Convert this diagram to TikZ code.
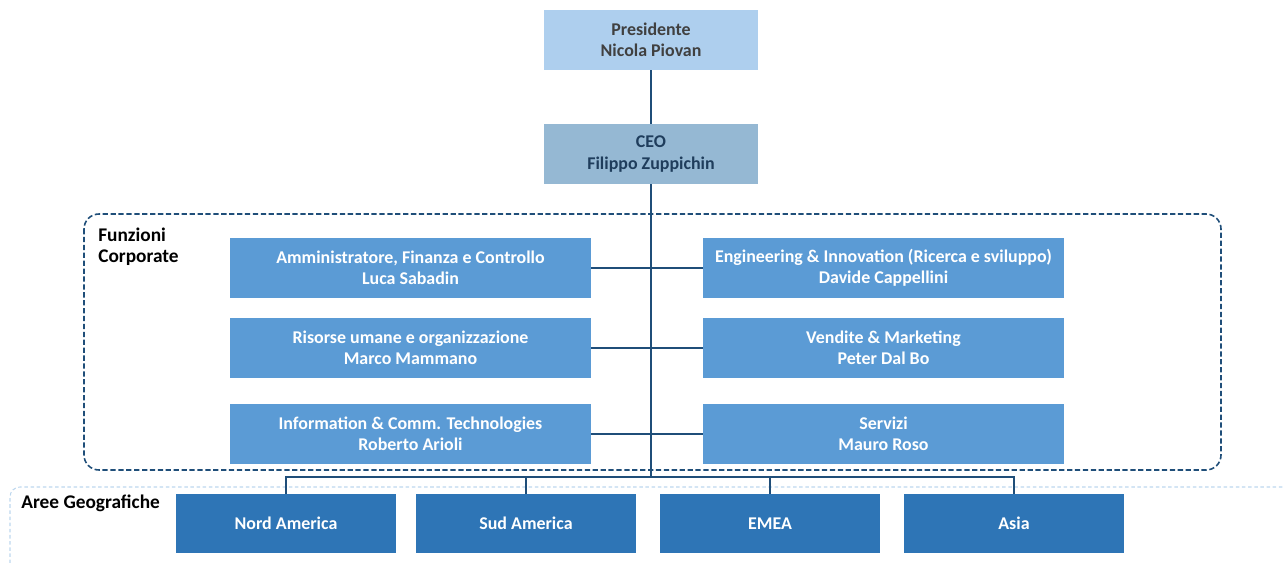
\documentclass[tikz,border=0pt]{standalone}
\usepackage{fontspec}
\setmainfont{Carlito}
\definecolor{presfill}{RGB}{174,207,238}
\definecolor{ceofill}{RGB}{149,184,211}
\definecolor{funfill}{RGB}{91,155,213}
\definecolor{geofill}{RGB}{46,117,182}
\definecolor{linecol}{RGB}{31,78,121}
\definecolor{palecol}{RGB}{189,215,238}
\definecolor{prestext}{RGB}{64,64,64}
\definecolor{ceotext}{RGB}{31,61,92}

\begin{document}
\begin{tikzpicture}[x=0.02cm,y=-0.02cm]
    \tikzstyle{box}=[rectangle,inner sep=0,align=center,
        font=\fontsize{10.2}{12}\selectfont\bfseries]
    \tikzstyle{topbox}=[box,minimum width=4.28cm,minimum height=1.2cm]
    \tikzstyle{funbox}=[box,fill=funfill,text=white,minimum width=7.22cm,minimum height=1.2cm]
    \tikzstyle{geobox}=[box,fill=geofill,text=white,minimum width=4.4cm,minimum height=1.18cm]
    \tikzstyle{link}=[draw=linecol,line width=0.8pt]
    \tikzstyle{label}=[anchor=north west,inner sep=0,align=left,
        font=\fontsize{11}{11.5}\selectfont\bfseries]
    \useasboundingbox (0,0) rectangle (1285,563);

    % frames
    \draw[linecol,line width=0.9pt,dash pattern=on 3pt off 1.5pt,rounded corners=0.3cm]
        (84,214) rectangle (1221,470);
    \draw[palecol,line width=0.6pt,dash pattern=on 2pt off 1.5pt,rounded corners=0.2cm]
        (10,600) -- (10,487) -- (1300,487);
    \path (98,228) node[label] (funlabel) {Funzioni\\Corporate};
    \path (21,495) node[label] (geolabel) {Aree Geografiche};

    % top
    \path (651,40) node[topbox,fill=presfill,text=prestext] (pres) {Presidente\\Nicola Piovan};
    \path (651,154) node[topbox,fill=ceofill,text=ceotext] (ceo) {CEO\\Filippo Zuppichin};
    \coordinate (hub) at (651,477);

    % funzioni corporate
    \path (410.5,268) node[funbox] (afc) {Amministratore, Finanza e Controllo\\Luca Sabadin};
    \path (883.5,268) node[funbox] (eng) {Engineering \& Innovation (Ricerca e sviluppo)\\Davide Cappellini};
    \path (410.5,348) node[funbox] (hr) {Risorse umane e organizzazione\\Marco Mammano};
    \path (883.5,348) node[funbox] (sales) {Vendite \& Marketing\\Peter Dal Bo};
    \path (410.5,434) node[funbox] (ict) {Information \& Comm. Technologies\\Roberto Arioli};
    \path (883.5,434) node[funbox] (serv) {Servizi\\Mauro Roso};

    % aree geografiche
    \path (286,523.5) node[geobox] (nam) {Nord America};
    \path (526,523.5) node[geobox] (sam) {Sud America};
    \path (770,523.5) node[geobox] (emea) {EMEA};
    \path (1014,523.5) node[geobox] (asia) {Asia};

    % connectors
    \draw[link] (pres.south) -- (ceo.north);
    \draw[link] (ceo.south) -- (hub);
    \draw[link] (afc.east) -- (eng.west);
    \draw[link] (hr.east) -- (sales.west);
    \draw[link] (ict.east) -- (serv.west);
    \draw[link] (nam.north) |- (hub) -| (asia.north);
    \draw[link] (sam.north) -- (sam.north |- hub);
    \draw[link] (emea.north) -- (emea.north |- hub);
\end{tikzpicture}
\end{document}
